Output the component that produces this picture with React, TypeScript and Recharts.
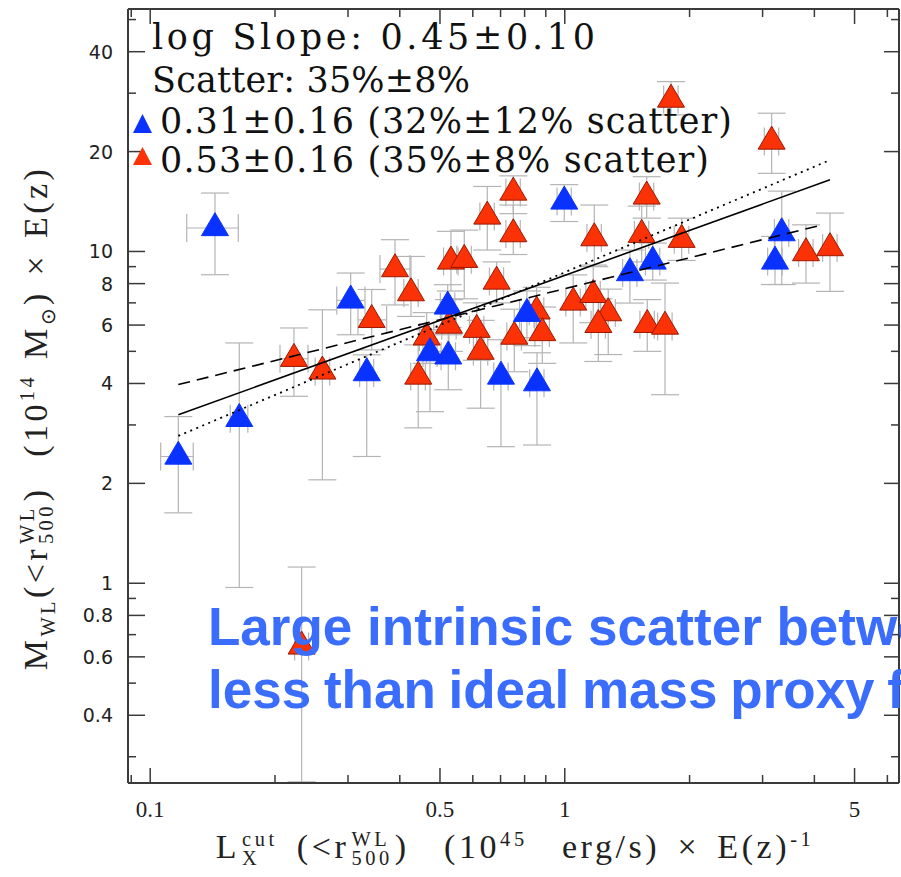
import React from 'react';
import { ScatterChart, Scatter, XAxis, YAxis, ErrorBar, Legend } from 'recharts';

// blue sample: L_X (10^45 erg/s) and M_WL (10^14 Msun), with error bounds
const blueL = [0.1433, 0.1169, 0.164, 0.3045, 0.3329, 0.473, 0.5236, 0.5219, 0.7016, 0.8104, 0.8569, 0.9972, 1.436, 1.63, 3.214, 3.337];
const blueLLo = [0.1225, 0.106, 0.156, 0.2818, 0.32, 0.455, 0.503, 0.501, 0.674, 0.778, 0.823, 0.958, 1.379, 1.565, 3.086, 3.204];
const blueLHi = [0.1631, 0.127, 0.172, 0.3297, 0.346, 0.492, 0.545, 0.543, 0.73, 0.843, 0.891, 1.037, 1.493, 1.695, 3.343, 3.47];
const blueM = [11.77, 2.41, 3.13, 7.12, 4.3, 4.94, 4.83, 6.83, 4.2, 6.49, 4.01, 14.15, 8.61, 9.33, 9.33, 11.36];
const blueMLo = [8.51, 1.63, 0.971, 5.61, 2.41, 3.29, 3.83, 5.9, 2.58, 5.2, 2.61, 12.31, 6.99, 8.2, 7.95, 7.95];
const blueMHi = [15.0, 3.18, 5.3, 8.61, 4.88, 5.81, 5.61, 7.94, 5.42, 7.6, 4.95, 15.9, 10.1, 10.6, 11.1, 15.2];

// red sample
const redL = [0.2222, 0.2602, 0.3422, 0.3895, 0.4256, 0.4644, 0.4431, 0.5256, 0.5314, 0.5722, 0.6502, 0.7513, 0.7513, 0.6849, 0.6132, 0.6267, 0.7555, 0.8555, 0.8826, 1.804, 1.178, 1.576, 1.533, 1.914, 1.048, 1.171, 1.273, 1.205, 1.581, 1.745, 3.155, 3.818, 4.363, 0.2319];
const redLLo = [0.2056, 0.25, 0.3171, 0.3583, 0.409, 0.446, 0.425, 0.505, 0.51, 0.549, 0.624, 0.721, 0.721, 0.658, 0.589, 0.602, 0.725, 0.821, 0.847, 1.732, 1.131, 1.513, 1.472, 1.837, 1.006, 1.124, 1.222, 1.157, 1.518, 1.675, 3.029, 3.665, 4.188, 0.223];
const redLHi = [0.2402, 0.271, 0.3719, 0.4232, 0.443, 0.483, 0.461, 0.547, 0.553, 0.595, 0.676, 0.781, 0.781, 0.712, 0.638, 0.652, 0.786, 0.89, 0.918, 1.876, 1.225, 1.639, 1.594, 1.991, 1.09, 1.218, 1.324, 1.253, 1.644, 1.815, 3.281, 3.971, 4.538, 0.241];
const redM = [4.75, 4.35, 6.22, 8.85, 7.49, 5.51, 4.2, 5.98, 9.33, 9.44, 12.75, 15.06, 11.28, 8.12, 5.81, 4.99, 5.54, 6.6, 5.68, 28.7, 10.97, 14.65, 11.23, 10.85, 7.02, 7.4, 6.52, 6.01, 6.01, 5.94, 21.45, 9.89, 10.24, 0.645];
const redMLo = [3.66, 2.05, 5.05, 6.9, 6.37, 4.6, 2.94, 5.0, 7.6, 7.2, 10.1, 13.0, 9.79, 7.0, 4.7, 3.37, 4.34, 5.5, 4.6, 25.8, 9.0, 12.6, 9.3, 9.4, 5.3, 6.1, 4.89, 4.66, 5.0, 3.7, 17.2, 8.03, 7.58, 0.252];
const redMHi = [5.88, 6.67, 7.68, 10.85, 9.66, 6.54, 5.23, 7.16, 11.5, 11.6, 15.7, 16.9, 13.8, 9.3, 7.0, 6.2, 6.7, 7.8, 6.8, 32.5, 13.8, 16.8, 13.7, 12.6, 8.5, 9.1, 7.7, 7.2, 7.16, 8.03, 26.1, 12.03, 13.05, 1.119];

// fitted relations (end points)
const fitAllL = [0.1169, 4.363];
const fitAllM = [3.22, 16.45];
const fitBlueL = [0.1169, 4.126];
const fitBlueM = [3.97, 11.98];
const fitRedL = [0.1169, 4.379];
const fitRedM = [2.78, 18.9];

const xTicks = [0.09, 0.1, 0.2, 0.3, 0.4, 0.5, 0.6, 0.7, 0.8, 0.9, 1, 2, 3, 4, 5, 6];
const xLabels = [0.1, 0.5, 1, 5];
const yTicks = [0.3, 0.4, 0.5, 0.6, 0.7, 0.8, 0.9, 1, 2, 3, 4, 5, 6, 7, 8, 9, 10, 20, 30, 40, 50];
const yLabels = [0.4, 0.6, 0.8, 1, 2, 4, 6, 8, 10, 20, 40];

const blueName = '0.31\u00b10.16 (32%\u00b112% scatter)';
const redName = '0.53\u00b10.16 (35%\u00b18% scatter)';

const BLUE = '#0a32ff';
const RED = '#fa3205';
const FRAME = '#3a3a3a';
const ERR = '#b4b4b4';

const toRows = (L: number[], M: number[], mLo: number[], mHi: number[], lLo: number[], lHi: number[]) =>
  L.map((x, i) => ({ x, y: M[i], ey: [M[i] - mLo[i], mHi[i] - M[i]], ex: [x - lLo[i], lHi[i] - x] }));

const toLine = (L: number[], M: number[]) => L.map((x, i) => ({ x, y: M[i] }));

const triangle = (fill: string, stroke: string) => (p: any) => {
  const w = 27;
  const h = 23;
  const { cx, cy } = p;
  return (
    <polygon
      points={`${cx - w / 2},${cy + h / 3} ${cx + w / 2},${cy + h / 3} ${cx},${cy - (2 * h) / 3}`}
      fill={fill}
      stroke={stroke}
      strokeWidth={1}
    />
  );
};

const noDot = () => <g />;

const bottomTick = (p: any) => {
  const v = p.payload.value;
  const major = xLabels.includes(v);
  return (
    <g>
      <line x1={p.x} x2={p.x} y1={p.y} y2={p.y - (major ? 15 : 8)} stroke={FRAME} strokeWidth={1.5} />
      {major && (
        <text x={p.x} y={p.y + 34} textAnchor="middle" fontFamily="Liberation Serif" fontSize={23} fill="#222">
          {String(v)}
        </text>
      )}
    </g>
  );
};

const topTick = (p: any) => {
  const major = xLabels.includes(p.payload.value);
  return <line x1={p.x} x2={p.x} y1={p.y} y2={p.y + (major ? 15 : 8)} stroke={FRAME} strokeWidth={1.5} />;
};

const leftTick = (p: any) => {
  const v = p.payload.value;
  const major = yLabels.includes(v);
  return (
    <g>
      <line x1={p.x} x2={p.x + (major ? 17 : 8)} y1={p.y} y2={p.y} stroke={FRAME} strokeWidth={1.5} />
      {major && (
        <text x={p.x - 15} y={p.y + 7} textAnchor="end" fontFamily="DejaVu Sans" fontSize={19} fill="#222">
          {String(v)}
        </text>
      )}
    </g>
  );
};

const rightTick = (p: any) => {
  const major = yLabels.includes(p.payload.value);
  return <line x1={p.x} x2={p.x - (major ? 15 : 8)} y1={p.y} y2={p.y} stroke={FRAME} strokeWidth={1.5} />;
};

const renderLegend = (props: any) => {
  const items = props.payload || [];
  const blue = items.find((it: any) => it.value === blueName);
  const red = items.find((it: any) => it.value === redName);
  const font = { fontFamily: 'DejaVu Serif', fontSize: 35, fill: '#111' };
  return (
    <svg width={901} height={200} style={{ display: 'block' }}>
      <text x={152} y={49} textLength={443} lengthAdjust="spacing" {...font}>log Slope: 0.45±0.10</text>
      <text x={152} y={92} textLength={318} lengthAdjust="spacing" {...font}>Scatter: 35%±8%</text>
      {blue && (
        <g>
          <polygon points="133,133 152,133 142.5,114" fill={blue.color} />
          <text x={160} y={133} textLength={572} lengthAdjust="spacing" {...font}>{blue.value}</text>
        </g>
      )}
      {red && (
        <g>
          <polygon points="133,165 152,165 142.5,147" fill={red.color} />
          <text x={160} y={172} textLength={549} lengthAdjust="spacing" {...font}>{red.value}</text>
        </g>
      )}
    </svg>
  );
};

const Stack = ({ sup, sub }: { sup: string; sub: string }) => (
  <span style={{ display: 'inline-flex', flexDirection: 'column', fontSize: '0.6em', lineHeight: 0.95, verticalAlign: '0.6em', margin: '0 2px' }}>
    <span>{sup}</span>
    <span>{sub}</span>
  </span>
);

const titleStyle: React.CSSProperties = {
  position: 'absolute',
  whiteSpace: 'pre',
  fontFamily: 'Liberation Serif',
  fontSize: 34,
  color: '#222',
};

export default function App() {
  const blueRows = toRows(blueL, blueM, blueMLo, blueMHi, blueLLo, blueLHi);
  const redRows = toRows(redL, redM, redMLo, redMHi, redLLo, redLHi);
  const axisLine = { stroke: FRAME, strokeWidth: 2 };
  const small = { fontSize: '0.6em' };

  return (
    <div style={{ position: 'absolute', left: 0, top: 0, width: 901, height: 877, overflow: 'hidden', background: '#fff' }}>
      <ScatterChart width={901} height={877} margin={{ top: 8, right: 1, bottom: 34, left: 68 }}>
        <XAxis xAxisId="b" type="number" dataKey="x" scale="log" domain={[0.0884, 6.4]} allowDataOverflow
          ticks={xTicks} interval={0} tick={bottomTick} tickLine={false} tickSize={0} tickMargin={0} height={60} axisLine={axisLine} />
        <XAxis xAxisId="t" orientation="top" type="number" dataKey="x" scale="log" domain={[0.0884, 6.4]} allowDataOverflow
          ticks={xTicks} interval={0} tick={topTick} tickLine={false} tickSize={0} tickMargin={0} height={1} axisLine={axisLine} />
        <YAxis yAxisId="l" type="number" dataKey="y" scale="log" domain={[0.25, 53.8]} allowDataOverflow
          ticks={yTicks} interval={0} tick={leftTick} tickLine={false} tickSize={0} tickMargin={0} width={60} axisLine={axisLine} />
        <YAxis yAxisId="r" orientation="right" type="number" dataKey="y" scale="log" domain={[0.25, 53.8]} allowDataOverflow
          ticks={yTicks} interval={0} tick={rightTick} tickLine={false} tickSize={0} tickMargin={0} width={1} axisLine={axisLine} />
        <Legend layout="vertical" align="center" verticalAlign="middle" content={renderLegend}
          wrapperStyle={{ position: 'absolute', left: 0, top: 0, width: 901, height: 200 }} />

        <Scatter name={redName} data={redRows} xAxisId="b" yAxisId="l" fill={RED} shape={triangle(RED, '#9a1800')} isAnimationActive={false}>
          <ErrorBar dataKey="ey" direction="y" width={14} stroke={ERR} strokeWidth={1.2} isAnimationActive={false} />
          <ErrorBar dataKey="ex" direction="x" width={14} stroke={ERR} strokeWidth={1.2} isAnimationActive={false} />
        </Scatter>
        <Scatter name={blueName} data={blueRows} xAxisId="b" yAxisId="l" fill={BLUE} shape={triangle(BLUE, BLUE)} isAnimationActive={false}>
          <ErrorBar dataKey="ey" direction="y" width={14} stroke={ERR} strokeWidth={1.2} isAnimationActive={false} />
          <ErrorBar dataKey="ex" direction="x" width={14} stroke={ERR} strokeWidth={1.2} isAnimationActive={false} />
        </Scatter>

        <Scatter name="all" data={toLine(fitAllL, fitAllM)} xAxisId="b" yAxisId="l" legendType="none" shape={noDot}
          line={{ stroke: '#000', strokeWidth: 1.6 }} stroke="#000" isAnimationActive={false} />
        <Scatter name="blue fit" data={toLine(fitBlueL, fitBlueM)} xAxisId="b" yAxisId="l" legendType="none" shape={noDot}
          line={{ stroke: '#000', strokeWidth: 1.6, strokeDasharray: '12 7' }} stroke="#000" isAnimationActive={false} />
        <Scatter name="red fit" data={toLine(fitRedL, fitRedM)} xAxisId="b" yAxisId="l" legendType="none" shape={noDot}
          line={{ stroke: '#000', strokeWidth: 1.8, strokeDasharray: '2 4.5' }} stroke="#000" isAnimationActive={false} />
      </ScatterChart>

      <div style={{ ...titleStyle, letterSpacing: 3.4, wordSpacing: 3, left: 38, top: 418, transform: 'translate(-50%, -50%) rotate(-90deg)' }}>
        M<sub style={small}>WL</sub>(&lt;r<Stack sup="WL" sub="500" />)  (10<sup style={small}>14</sup> M<sub style={small}>⊙</sub>) × E(z)
      </div>
      <div style={{ ...titleStyle, letterSpacing: 3.6, wordSpacing: 5, left: 515, top: 848, transform: 'translate(-50%, -50%)' }}>
        L<Stack sup="cut" sub="X" /> (&lt;r<Stack sup="WL" sub="500" />)  (10<sup style={small}>45</sup>  erg/s) × E(z)<sup style={small}>-1</sup>
      </div>
      <div style={{ position: 'absolute', left: 208, top: 595, whiteSpace: 'nowrap', fontFamily: 'Liberation Sans', fontWeight: 'bold',
        fontSize: 53, lineHeight: '63px', color: '#3b6dfd' }}>
        Large intrinsic scatter between
        <br />
        <span style={{ wordSpacing: -2 }}>less than ideal mass proxy for</span>
      </div>
    </div>
  );
}
